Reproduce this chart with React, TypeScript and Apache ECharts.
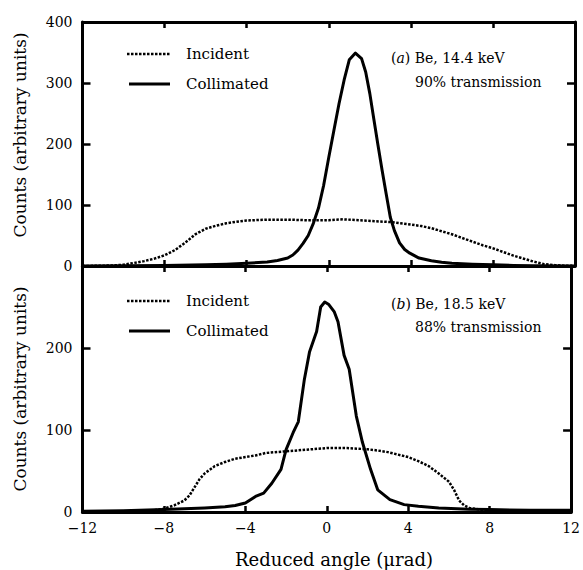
import React, { useEffect, useRef } from "react";
import * as echarts from "echarts";

// ---- data ----
const xTicks = [-12, -8, -4, 0, 4, 8, 12];
const topYTicks = [0, 100, 200, 300, 400];
const bottomYTicks = [0, 100, 200];

// Panel (a): Be, 14.4 keV
const incidentAX = [-12, -11, -10.5, -10, -9.5, -9, -8.5, -8, -7.5, -7, -6.5, -6, -5.5, -5, -4.5, -4, -3, -2, -1, 0, 0.7, 1.5, 2.5, 3, 3.5, 4, 4.5, 5, 5.5, 6, 6.5, 7, 7.5, 8, 8.5, 9, 9.5, 10, 10.5, 11, 11.5, 12];
const incidentAY = [0, 0.5, 1, 2, 5, 8, 12, 17.5, 26, 38, 52, 61, 66, 70, 72.5, 74.5, 76, 76, 75, 75, 76.5, 75, 73, 72, 70, 68, 65.5, 62, 57, 52, 46, 40, 34, 29, 23, 17, 12, 7, 3, 1.5, 0.5, 0];

const collimatedAX = [-12, -10, -8, -6, -5, -4, -3, -2.5, -2, -1.75, -1.5, -1.25, -1, -0.75, -0.5, -0.25, 0, 0.25, 0.5, 0.75, 1, 1.3, 1.6, 1.8, 2, 2.2, 2.4, 2.6, 2.8, 3, 3.2, 3.45, 3.7, 3.95, 4.4, 5, 5.5, 6, 7, 8, 9, 10, 12];
const collimatedAY = [0, 0.5, 1, 2, 3, 4.5, 6.5, 9, 13, 18, 26, 37, 50, 70, 95, 132, 178, 222, 266, 305, 338, 349, 340, 318, 283, 240, 198, 157, 118, 80, 58, 38, 27, 21, 13, 8.5, 6, 4.5, 3, 2, 1, 0.5, 0];

// Panel (b): Be, 18.5 keV
const incidentBX = [-12, -10, -9, -8.5, -8, -7.5, -7, -6.75, -6.5, -6.25, -6, -5.5, -5, -4.5, -4, -3.5, -3, -2, -1, 0, 1, 2, 2.5, 3, 3.5, 4, 4.5, 5, 5.5, 6, 6.25, 6.5, 6.75, 7, 7.5, 8, 9, 10, 12];
const incidentBY = [0, 0.5, 1, 2, 4, 8, 14, 20, 30, 40, 47, 56, 61, 65, 67, 69, 72, 74, 76, 78, 78, 76.5, 75, 73, 70, 67, 62, 56, 47, 37, 27, 14, 8, 5, 3, 1.5, 0.5, 0, 0];

const collimatedBX = [-12, -10, -8, -7, -6, -5, -4.5, -4, -3.5, -3.1, -2.7, -2.25, -2, -1.65, -1.4, -1.1, -0.85, -0.5, -0.3, -0.1, 0.1, 0.37, 0.55, 0.85, 1.1, 1.45, 1.75, 2.15, 2.5, 3.1, 3.8, 4.5, 5.5, 7, 8, 10, 12];
const collimatedBY = [1, 1.5, 3, 4, 5, 6.5, 8, 11, 19, 23, 35, 52, 76, 97, 110, 162, 195, 220, 250, 256, 253, 244, 232, 191, 174, 117, 85, 52, 27, 15, 9, 7, 5, 3.5, 3, 2, 2];

const seriesNames = ["Incident", "Collimated"];
const panelLabels = [
  ["a", "Be, 14.4 keV", "90% transmission"],
  ["b", "Be, 18.5 keV", "88% transmission"],
];

const FONT = "DejaVu Serif";

const zip = (xs: number[], ys: number[]) => xs.map((x, i) => [x, ys[i]]);
const minus = (v: number | string) => String(v).replace("-", "\u2212");

export default function App() {
  const ref = useRef<HTMLDivElement>(null);

  useEffect(() => {
    if (!ref.current) return;
    const chart = echarts.init(ref.current, undefined, { renderer: "svg" });

    const axisLine = { show: true, onZero: false, lineStyle: { color: "#000", width: 3 } };
    const xTick = { show: true, inside: true, length: 6, lineStyle: { color: "#000", width: 2.5 } };
    const yTick = { show: true, inside: true, length: 8, lineStyle: { color: "#000", width: 2.5 } };
    const labelStyle = { color: "#000", fontFamily: FONT, fontSize: 14 };

    const mkX = (gridIndex: number, position: string, showLabel: boolean) => ({
      type: "value",
      gridIndex,
      position,
      min: xTicks[0],
      max: xTicks[xTicks.length - 1],
      interval: xTicks[1] - xTicks[0],
      axisLine,
      axisTick: xTick,
      splitLine: { show: false },
      axisLabel: showLabel
        ? { ...labelStyle, margin: 9, formatter: (v: number) => minus(v) }
        : { show: false },
    });
    const mkY = (gridIndex: number, position: string, ticks: number[], max: number, showLabel: boolean) => ({
      type: "value",
      gridIndex,
      position,
      min: ticks[0],
      max,
      interval: ticks[1] - ticks[0],
      axisLine,
      axisTick: yTick,
      splitLine: { show: false },
      axisLabel: showLabel
        ? {
            ...labelStyle,
            margin: 10,
            formatter: (v: number) => (ticks.indexOf(v) >= 0 ? String(v) : ""),
          }
        : { show: false },
    });

    const incStyle = { color: "#000", width: 2.5, type: [2.5, 1.5], cap: "butt" };
    const colStyle = { color: "#000", width: 3, join: "round" };
    const mkSeries = (name: string, data: number[][], idx: number, style: any) => ({
      name,
      type: "line",
      xAxisIndex: idx * 2,
      yAxisIndex: idx * 2,
      data,
      showSymbol: false,
      symbol: "none",
      lineStyle: style,
      itemStyle: { color: "#000" },
      z: name === "Collimated" ? 3 : 2,
    });

    const txt = (size: number) => ({ fill: "#000", fontFamily: FONT, fontSize: size });

    const legendY = [
      [54, 84],
      [301, 331],
    ];
    const graphics: any[] = [];
    legendY.forEach((ys) => {
      graphics.push({
        type: "line",
        shape: { x1: 127, y1: ys[0], x2: 170, y2: ys[0] },
        style: { stroke: "#000", lineWidth: 2.5, lineDash: [2.5, 1.5] },
      });
      graphics.push({
        type: "line",
        shape: { x1: 129, y1: ys[1], x2: 170, y2: ys[1] },
        style: { stroke: "#000", lineWidth: 3 },
      });
      seriesNames.forEach((n, i) =>
        graphics.push({
          type: "text",
          x: 186,
          y: ys[i],
          style: { ...txt(15), text: n, textAlign: "left", textVerticalAlign: "middle" },
        })
      );
    });
    const annY = [
      [58, 82],
      [304, 327],
    ];
    panelLabels.forEach((lab, p) => {
      graphics.push({
        type: "text",
        x: 391,
        y: annY[p][0],
        style: {
          ...txt(14),
          text: `({it|${lab[0]}}) ${lab[1]}`,
          textAlign: "left",
          textVerticalAlign: "middle",
          rich: { it: { fontStyle: "italic", fontFamily: FONT, fontSize: 14, fill: "#000" } },
        },
      });
      graphics.push({
        type: "text",
        x: 415,
        y: annY[p][1],
        style: { ...txt(14), text: lab[2], textAlign: "left", textVerticalAlign: "middle" },
      });
    });
    [135, 389].forEach((cy) =>
      graphics.push({
        type: "text",
        x: 20,
        y: cy,
        rotation: Math.PI / 2,
        style: {
          ...txt(17),
          text: "Counts (arbitrary units)",
          textAlign: "center",
          textVerticalAlign: "middle",
        },
      })
    );
    graphics.push({
      type: "text",
      x: 334,
      y: 559,
      style: {
        ...txt(18),
        text: "Reduced angle (\u03bcrad)",
        textAlign: "center",
        textVerticalAlign: "middle",
      },
    });

    chart.setOption({
      animation: false,
      backgroundColor: "#fff",
      grid: [
        { left: 82.5, right: 8, top: 22, height: 244 },
        { left: 82.5, right: 8, top: 266, height: 246 },
      ],
      xAxis: [mkX(0, "bottom", false), mkX(0, "top", false), mkX(1, "bottom", true), mkX(1, "top", false)],
      yAxis: [
        mkY(0, "left", topYTicks, 400, true),
        mkY(0, "right", topYTicks, 400, false),
        mkY(1, "left", bottomYTicks, 300, true),
        mkY(1, "right", bottomYTicks, 300, false),
      ],
      series: [
        mkSeries("Incident", zip(incidentAX, incidentAY), 0, incStyle),
        mkSeries("Collimated", zip(collimatedAX, collimatedAY), 0, colStyle),
        mkSeries("Incident", zip(incidentBX, incidentBY), 1, incStyle),
        mkSeries("Collimated", zip(collimatedBX, collimatedBY), 1, colStyle),
      ],
      graphic: graphics,
    });

    return () => chart.dispose();
  }, []);

  return (
    <div
      ref={ref}
      style={{ position: "fixed", left: 0, top: 0, width: 583, height: 570, background: "#fff" }}
    />
  );
}
